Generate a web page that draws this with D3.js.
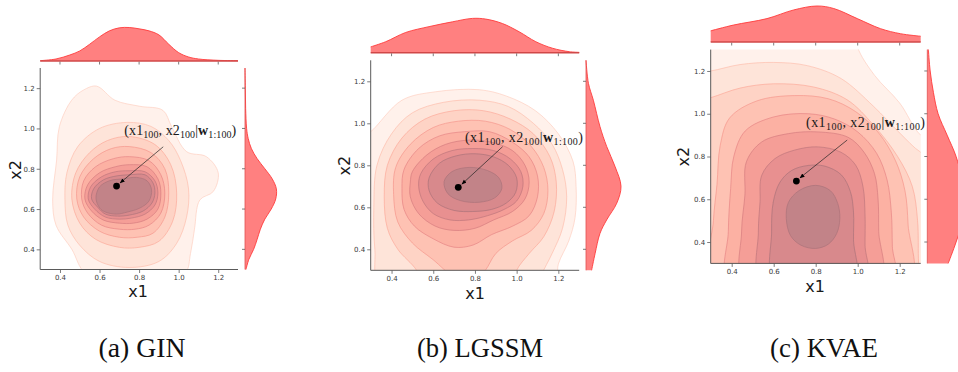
<!DOCTYPE html>
<html><head><meta charset="utf-8">
<script src="https://cdn.jsdelivr.net/npm/d3@7"></script>
<style>body{margin:0;background:#fff}svg{display:block}</style>
</head><body>
<svg id="chart" width="958" height="372"></svg>
<script>
// ================= DATA =================
const tickValues = [0.4, 0.6, 0.8, 1.0, 1.2];
const tickLabels = ["0.4", "0.6", "0.8", "1.0", "1.2"];
const panelNames = ["(a) GIN", "(b) LGSSM", "(c) KVAE"];
const axisNames = ["x1", "x2"];

// ---- (a) GIN: density contour levels, outer -> inner, [x1, x2] ----
const ginContours = [
  [[0.585,1.21],[0.678,1.14],[0.804,1.11],[0.92,1.09],[0.964,1.01],[1.04,0.885],[1.14,0.86],[1.2,0.78],[1.175,0.687],[1.107,0.645],[1.08,0.5],[1.06,0.38],[1.03,0.28],[0.75,0.22],[0.53,0.28],[0.46,0.4],[0.38,0.52],[0.363,0.645],[0.383,0.843],[0.397,1.009],[0.459,1.14],[0.518,1.19]],
  [[0.6,1.0],[0.74,1.03],[0.86,1.01],[0.95,0.94],[1.01,0.84],[1.05,0.7],[1.04,0.56],[0.99,0.43],[0.9,0.34],[0.75,0.31],[0.6,0.34],[0.5,0.42],[0.44,0.52],[0.425,0.65],[0.435,0.78],[0.49,0.91]],
  [[0.75,0.96],[0.88,0.92],[0.96,0.82],[0.99,0.68],[0.97,0.54],[0.9,0.44],[0.8,0.41],[0.7,0.41],[0.58,0.45],[0.5,0.53],[0.46,0.65],[0.48,0.78],[0.55,0.88],[0.64,0.94]],
  [[0.75,0.91],[0.86,0.88],[0.93,0.8],[0.95,0.68],[0.93,0.56],[0.87,0.48],[0.79,0.46],[0.7,0.46],[0.6,0.49],[0.52,0.56],[0.485,0.65],[0.5,0.76],[0.57,0.85],[0.66,0.9]],
  [[0.75,0.86],[0.85,0.84],[0.91,0.77],[0.93,0.68],[0.91,0.58],[0.85,0.52],[0.78,0.5],[0.7,0.5],[0.61,0.52],[0.54,0.58],[0.51,0.65],[0.52,0.74],[0.58,0.81],[0.67,0.85]],
  [[0.75,0.82],[0.84,0.81],[0.895,0.75],[0.91,0.68],[0.895,0.6],[0.84,0.55],[0.77,0.53],[0.7,0.53],[0.62,0.545],[0.56,0.59],[0.526,0.65],[0.54,0.72],[0.6,0.78],[0.68,0.81]],
  [[0.75,0.79],[0.83,0.785],[0.88,0.74],[0.895,0.68],[0.88,0.62],[0.83,0.575],[0.76,0.555],[0.7,0.55],[0.63,0.56],[0.575,0.6],[0.543,0.65],[0.555,0.71],[0.61,0.76],[0.68,0.785]],
  [[0.75,0.77],[0.83,0.77],[0.87,0.73],[0.88,0.68],[0.865,0.63],[0.82,0.59],[0.75,0.57],[0.69,0.565],[0.63,0.575],[0.59,0.61],[0.56,0.65],[0.57,0.7],[0.62,0.745],[0.69,0.765]],
  [[0.652,0.741],[0.72,0.75],[0.787,0.757],[0.84,0.74],[0.863,0.695],[0.85,0.64],[0.804,0.605],[0.74,0.585],[0.686,0.575],[0.63,0.585],[0.602,0.604],[0.582,0.653],[0.6,0.71]]
];
const ginTopX = [0.3,0.38,0.45,0.5,0.55,0.6,0.65,0.7,0.75,0.8,0.85,0.9,0.95,1.0,1.05,1.1,1.2,1.3];
const ginTopH = [0.01,0.06,0.18,0.3,0.5,0.72,0.9,0.99,1.0,0.96,0.9,0.78,0.5,0.25,0.12,0.06,0.02,0.01];
const ginRightY = [1.3,1.2,1.1,1.0,0.95,0.9,0.85,0.8,0.75,0.7,0.65,0.6,0.55,0.5,0.45,0.4,0.35,0.3];
const ginRightW = [0.0,0.01,0.02,0.05,0.1,0.2,0.38,0.62,0.85,0.98,0.96,0.82,0.62,0.48,0.38,0.27,0.12,0.03];
const ginPoint = [0.686, 0.714];
const ginLabelAt = [0.725, 0.967];
const ginArrowFrom = [0.922, 0.909];

// ---- (b) LGSSM ----
const lgssmContours = [
  [[0.25,0.93],[0.3,0.96],[0.45,1.11],[0.61,1.15],[0.82,1.16],[0.95,1.13],[1.09,1.06],[1.2,0.95],[1.27,0.82],[1.285,0.7],[1.28,0.55],[1.25,0.44],[1.2,0.33],[1.18,0.22],[0.25,0.22]],
  [[0.33,0.8],[0.4,0.95],[0.5,1.05],[0.65,1.1],[0.82,1.11],[0.96,1.08],[1.08,1.0],[1.17,0.9],[1.22,0.78],[1.24,0.65],[1.22,0.5],[1.17,0.38],[1.12,0.28],[1.1,0.22],[0.35,0.22],[0.32,0.4],[0.315,0.6]],
  [[0.38,0.8],[0.45,0.93],[0.56,1.02],[0.7,1.06],[0.84,1.06],[0.97,1.02],[1.08,0.95],[1.16,0.84],[1.19,0.72],[1.18,0.58],[1.13,0.46],[1.06,0.38],[1.0,0.3],[0.98,0.22],[0.55,0.22],[0.52,0.3],[0.43,0.4],[0.38,0.5],[0.365,0.65]],
  [[0.42,0.79],[0.49,0.9],[0.6,0.98],[0.72,1.01],[0.85,1.01],[0.97,0.97],[1.07,0.89],[1.13,0.79],[1.15,0.68],[1.13,0.57],[1.07,0.49],[0.98,0.44],[0.9,0.38],[0.85,0.3],[0.8,0.25],[0.7,0.27],[0.6,0.35],[0.5,0.43],[0.43,0.53],[0.41,0.66]],
  [[0.46,0.78],[0.53,0.88],[0.63,0.94],[0.75,0.96],[0.87,0.96],[0.98,0.91],[1.06,0.84],[1.1,0.75],[1.1,0.65],[1.06,0.56],[0.98,0.51],[0.88,0.47],[0.79,0.42],[0.7,0.41],[0.6,0.45],[0.51,0.51],[0.46,0.59],[0.45,0.69]],
  [[0.5,0.77],[0.57,0.85],[0.66,0.9],[0.77,0.92],[0.88,0.91],[0.98,0.87],[1.04,0.8],[1.06,0.72],[1.04,0.64],[0.98,0.58],[0.89,0.54],[0.8,0.5],[0.7,0.49],[0.61,0.51],[0.53,0.57],[0.49,0.65],[0.49,0.72]],
  [[0.54,0.76],[0.6,0.83],[0.69,0.87],[0.79,0.88],[0.89,0.87],[0.97,0.83],[1.02,0.77],[1.03,0.7],[1.0,0.63],[0.94,0.59],[0.86,0.56],[0.77,0.54],[0.68,0.54],[0.6,0.57],[0.55,0.63],[0.53,0.7]],
  [[0.58,0.74],[0.63,0.81],[0.71,0.845],[0.8,0.855],[0.89,0.84],[0.96,0.8],[1.0,0.74],[0.995,0.67],[0.95,0.62],[0.88,0.59],[0.79,0.58],[0.7,0.585],[0.62,0.62],[0.58,0.68]],
  [[0.652,0.722],[0.69,0.77],[0.772,0.79],[0.86,0.775],[0.915,0.74],[0.929,0.69],[0.895,0.645],[0.82,0.624],[0.73,0.632],[0.67,0.665]]
];
const lgssmTopX = [0.3,0.372,0.468,0.58,0.692,0.788,0.852,0.932,1.012,1.092,1.172,1.252,1.3];
const lgssmTopH = [0.17,0.32,0.59,0.76,0.9,1.0,0.98,0.85,0.61,0.32,0.13,0.03,0.01];
const lgssmRightY = [1.3,1.19,1.11,0.984,0.89,0.794,0.7,0.62,0.54,0.476,0.38,0.3];
const lgssmRightW = [0.0,0.07,0.21,0.4,0.59,0.83,1.0,0.88,0.59,0.4,0.26,0.16];
const lgssmPoint = [0.72, 0.695];
const lgssmLabelAt = [0.752, 0.912];
const lgssmArrowFrom = [0.933, 0.889];

// ---- (c) KVAE ----
const kvaeContours = [
  [[0.2,1.4],[0.99,1.4],[1.0,1.31],[1.08,1.18],[1.2,1.05],[1.3,0.9],[1.4,0.85],[1.4,0.2],[0.2,0.2]],
  [[0.2,1.19],[0.3,1.2],[0.44,1.23],[0.6,1.24],[0.76,1.225],[0.92,1.165],[1.075,1.035],[1.2,0.91],[1.3,0.82],[1.4,0.78],[1.4,0.2],[0.2,0.2]],
  [[0.2,1.05],[0.3,1.075],[0.44,1.12],[0.6,1.14],[0.79,1.125],[0.95,1.065],[1.077,0.945],[1.19,0.8],[1.26,0.66],[1.285,0.5],[1.29,0.3],[1.3,0.2],[0.2,0.2]],
  [[0.31,0.2],[0.313,0.5],[0.33,0.67],[0.345,0.85],[0.39,0.98],[0.52,1.06],[0.7,1.085],[0.86,1.07],[0.99,1.01],[1.1,0.91],[1.18,0.78],[1.225,0.64],[1.24,0.48],[1.245,0.2]],
  [[0.39,0.2],[0.384,0.45],[0.395,0.65],[0.41,0.8],[0.465,0.92],[0.6,0.985],[0.765,1.0],[0.89,0.975],[1.0,0.915],[1.09,0.815],[1.14,0.69],[1.16,0.54],[1.165,0.38],[1.17,0.2]],
  [[0.463,0.2],[0.447,0.447],[0.463,0.62],[0.47,0.775],[0.543,0.868],[0.67,0.907],[0.81,0.915],[0.954,0.89],[1.03,0.82],[1.08,0.72],[1.097,0.6],[1.1,0.45],[1.105,0.2]],
  [[0.543,0.2],[0.527,0.447],[0.535,0.587],[0.543,0.712],[0.606,0.79],[0.7,0.83],[0.81,0.845],[0.92,0.82],[0.99,0.76],[1.025,0.66],[1.035,0.52],[1.035,0.385],[1.04,0.2]],
  [[0.606,0.2],[0.59,0.447],[0.598,0.587],[0.63,0.68],[0.686,0.735],[0.764,0.758],[0.843,0.755],[0.922,0.714],[0.965,0.636],[0.98,0.54],[0.98,0.41],[0.985,0.2]],
  [[0.8,0.665],[0.87,0.64],[0.905,0.58],[0.915,0.51],[0.9,0.44],[0.86,0.39],[0.8,0.37],[0.73,0.385],[0.68,0.43],[0.66,0.51],[0.67,0.585],[0.72,0.64]]
];
const kvaeTopX = [0.3,0.408,0.568,0.695,0.806,0.886,0.998,1.109,1.204,1.3];
const kvaeTopH = [0.31,0.47,0.65,0.89,1.0,0.93,0.65,0.37,0.23,0.16];
const kvaeRightY = [1.3,1.2,1.1,1.0,0.9,0.8,0.7,0.6,0.5,0.4,0.3];
const kvaeRightW = [0.03,0.08,0.17,0.3,0.55,0.8,0.95,1.0,0.98,0.8,0.58];
const kvaePoint = [0.708, 0.685];
const kvaeLabelAt = [0.754, 0.937];
const kvaeArrowFrom = [0.95, 0.877];

// ================= LAYOUT (pixels) =================
const layouts = [
  {x0:40.2, x1:238, yb:269.5, yt:68, topBase:61, topH:33.5, rightBase:245, rightW:32, xlab:[138,297], ylab:[20.5,170], cap:142, capW:87, lblW:112},
  {x0:370.7, x1:579.2, yb:270.3, yt:60.3, topBase:52.7, topH:34.3, rightBase:586, rightW:35, xlab:[475,299], ylab:[350,165.7], cap:480, capW:126, lblW:118},
  {x0:710.7, x1:920.7, yb:263.4, yt:49.6, topBase:42, topH:36, rightBase:927.3, rightW:36, xlab:[815,292.3], ylab:[689,156.7], cap:824, capW:108, lblW:119}
];

const panels = [
  {contours: ginContours, topX: ginTopX, topH: ginTopH, rightY: ginRightY, rightW: ginRightW, point: ginPoint, labelAt: ginLabelAt, arrowFrom: ginArrowFrom},
  {contours: lgssmContours, topX: lgssmTopX, topH: lgssmTopH, rightY: lgssmRightY, rightW: lgssmRightW, point: lgssmPoint, labelAt: lgssmLabelAt, arrowFrom: lgssmArrowFrom},
  {contours: kvaeContours, topX: kvaeTopX, topH: kvaeTopH, rightY: kvaeRightY, rightW: kvaeRightW, point: kvaePoint, labelAt: kvaeLabelAt, arrowFrom: kvaeArrowFrom}
];

// ================= DRAW =================
const svg = d3.select("#chart");
const defs = svg.append("defs");
defs.append("marker").attr("id","arrowhead").attr("viewBox","0 0 10 10")
  .attr("refX",9).attr("refY",5).attr("markerWidth",5).attr("markerHeight",5)
  .attr("markerUnits","userSpaceOnUse").attr("orient","auto")
  .append("path").attr("d","M0,1 L10,5 L0,9 Z").attr("fill","#000");

const axisColor = "#5a5a5a";
const margFill = "#ff8080";
const margStroke = "#ff3b3b";

function levelColor(i, n) {
  const t = 0.1 + 0.84 * i / (n - 1);
  return d3.interpolateRgb("#ffffff", d3.interpolateReds(t))(0.5);
}
function lineColor(i, n) {
  const t = Math.min(1, 0.1 + 0.84 * i / (n - 1) + 0.2);
  return d3.interpolateRgb("#ffffff", d3.interpolateReds(t))(0.55);
}

panels.forEach((p, k) => {
  const L = layouts[k];
  const x = d3.scaleLinear().domain([0.3, 1.3]).range([L.x0, L.x1]);
  const y = d3.scaleLinear().domain([0.3, 1.3]).range([L.yb, L.yt]);
  const g = svg.append("g");

  const clipId = "clip" + k;
  defs.append("clipPath").attr("id", clipId).append("rect")
    .attr("x", L.x0).attr("y", L.yt).attr("width", L.x1 - L.x0).attr("height", L.yb - L.yt);

  // contours
  const line = d3.line().x(d => x(d[0])).y(d => y(d[1])).curve(d3.curveCatmullRomClosed.alpha(0.5));
  const cg = g.append("g").attr("clip-path", `url(#${clipId})`);
  const n = p.contours.length;
  cg.selectAll("path.lvl").data(p.contours).join("path")
    .attr("class","lvl")
    .attr("d", d => line(d))
    .attr("fill", (d, i) => levelColor(i, n))
    .attr("stroke", (d, i) => lineColor(i, n))
    .attr("stroke-width", 0.7);

  // main axes
  const xAxis = d3.axisBottom(x).tickValues(tickValues).tickFormat((d, i) => tickLabels[i]).tickSize(3.5).tickPadding(2);
  const yAxis = d3.axisLeft(y).tickValues(tickValues).tickFormat((d, i) => tickLabels[i]).tickSize(3.5).tickPadding(2);
  const gx = g.append("g").attr("transform", `translate(0,${L.yb})`).call(xAxis);
  const gy = g.append("g").attr("transform", `translate(${L.x0},0)`).call(yAxis);
  [gx, gy].forEach(a => {
    a.select(".domain").attr("stroke", axisColor).attr("stroke-width", 1);
    a.selectAll(".tick line").attr("stroke", axisColor).attr("stroke-width", 0.8);
    a.selectAll(".tick text").attr("fill", "#3a3a3a").style("font-family", "DejaVu Sans").style("font-size", "7px");
  });
  gy.select(".domain").attr("d", `M0,${L.yb}V${L.yt}`);
  gx.select(".domain").attr("d", `M${L.x0},0H${L.x1}`);

  // top marginal
  const h = d3.scaleLinear().domain([0, 1]).range([L.topBase, L.topBase - L.topH]);
  const topData = p.topX.map((v, i) => [v, p.topH[i]]);
  const topArea = d3.area().x(d => x(d[0])).y0(L.topBase).y1(d => h(d[1])).curve(d3.curveCatmullRom.alpha(0.5));
  const topLine = d3.line().x(d => x(d[0])).y(d => h(d[1])).curve(d3.curveCatmullRom.alpha(0.5));
  g.append("path").attr("d", topArea(topData)).attr("fill", margFill);
  g.append("path").attr("d", topLine(topData)).attr("fill", "none").attr("stroke", margStroke).attr("stroke-width", 0.9);
  g.append("line").attr("x1", L.x0).attr("x2", L.x1).attr("y1", L.topBase).attr("y2", L.topBase)
    .attr("stroke", "#d04848").attr("stroke-width", 1.4);
  g.selectAll("line.tt").data(tickValues).join("line").attr("class","tt")
    .attr("x1", d => x(d)).attr("x2", d => x(d)).attr("y1", L.topBase + 0.7).attr("y2", L.topBase + 3.5)
    .attr("stroke", axisColor).attr("stroke-width", 0.8);

  // right marginal
  const w = d3.scaleLinear().domain([0, 1]).range([L.rightBase, L.rightBase + L.rightW]);
  const rData = p.rightY.map((v, i) => [v, p.rightW[i]]);
  const rArea = d3.area().y(d => y(d[0])).x0(L.rightBase).x1(d => w(d[1])).curve(d3.curveCatmullRom.alpha(0.5));
  const rLine = d3.line().y(d => y(d[0])).x(d => w(d[1])).curve(d3.curveCatmullRom.alpha(0.5));
  g.append("path").attr("d", rArea(rData)).attr("fill", margFill);
  g.append("path").attr("d", rLine(rData)).attr("fill", "none").attr("stroke", margStroke).attr("stroke-width", 0.9);
  g.append("line").attr("x1", L.rightBase).attr("x2", L.rightBase).attr("y1", L.yt).attr("y2", L.yb)
    .attr("stroke", "#e05050").attr("stroke-width", 0.8);
  g.selectAll("line.rt").data(tickValues).join("line").attr("class","rt")
    .attr("y1", d => y(d)).attr("y2", d => y(d)).attr("x1", L.rightBase - 3).attr("x2", L.rightBase)
    .attr("stroke", axisColor).attr("stroke-width", 0.8);

  // axis labels
  g.append("text").attr("x", L.xlab[0]).attr("y", L.xlab[1]).attr("text-anchor", "middle")
    .style("font-family", "DejaVu Sans").style("font-size", "16px").attr("fill", "#1a1a1a").text(axisNames[0]);
  g.append("text").attr("transform", `translate(${L.ylab[0]},${L.ylab[1]}) rotate(-90)`).attr("text-anchor", "middle")
    .style("font-family", "DejaVu Sans").style("font-size", "16px").attr("fill", "#1a1a1a").text(axisNames[1]);

  // annotation
  g.append("line").attr("x1", x(p.arrowFrom[0])).attr("y1", y(p.arrowFrom[1]))
    .attr("x2", x(p.point[0]) + 3.6).attr("y2", y(p.point[1]) - 3.2)
    .attr("stroke", "#222").attr("stroke-width", 0.7).attr("marker-end", "url(#arrowhead)");
  g.append("circle").attr("cx", x(p.point[0])).attr("cy", y(p.point[1])).attr("r", 3.4).attr("fill", "#000");
  const t = g.append("text").attr("x", x(p.labelAt[0])).attr("y", y(p.labelAt[1]))
    .style("font-family", "Liberation Serif").style("font-size", "14px").attr("fill", "#1a1a1a")
    .attr("textLength", L.lblW).attr("lengthAdjust", "spacing");
  const parts = [["(x1",0,false],["100",1,false],[", x2",0,false],["100",1,false],["|",0,false],["w",0,true],["1:100",1,false],[")",0,false]];
  let sub = false;
  parts.forEach(([s, isSub, bold]) => {
    const ts = t.append("tspan").text(s);
    if (isSub) { ts.attr("font-size", "10px").attr("dy", sub ? 0 : 3); sub = true; }
    else { ts.attr("dy", sub ? -3 : 0); sub = false; }
    if (bold) ts.attr("font-weight", "bold");
  });

  // caption
  svg.append("text").attr("x", L.cap).attr("y", 357).attr("text-anchor", "middle")
    .style("font-family", "Liberation Serif").style("font-size", "27px").attr("fill", "#111")
    .attr("textLength", L.capW).attr("lengthAdjust", "spacingAndGlyphs")
    .text(panelNames[k]);
});
</script>
</body></html>
